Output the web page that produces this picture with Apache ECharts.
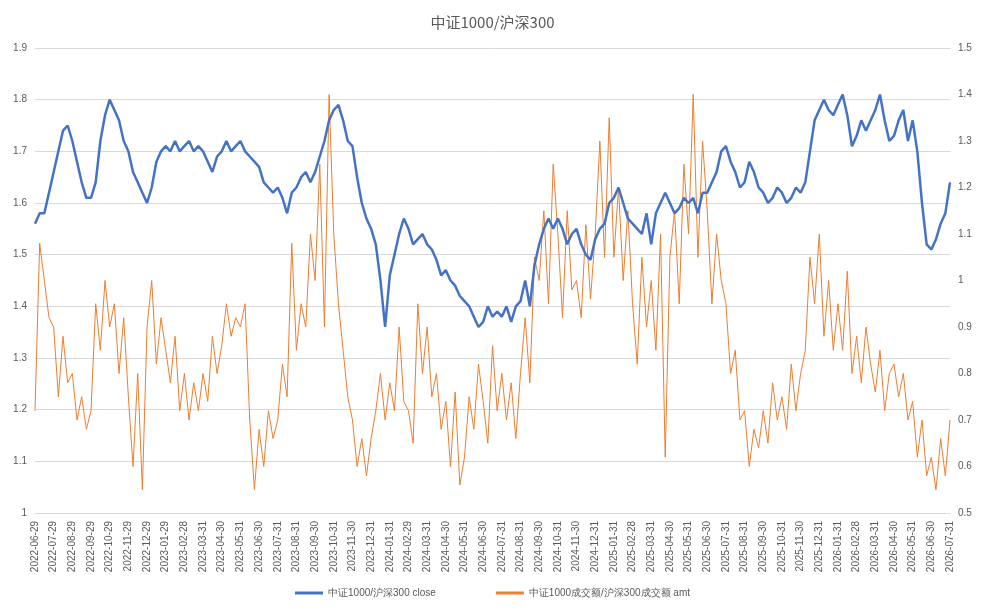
<!DOCTYPE html>
<html><head><meta charset="utf-8">
<script src="https://cdn.jsdelivr.net/npm/echarts@6/dist/echarts.min.js"></script>
<style>html,body{margin:0;padding:0;background:#fff}#c{width:985px;height:611px}</style>
</head><body><div id="c"></div>
<script>
const monthLabels = ['2022-06-29','2022-07-29','2022-08-29','2022-09-29','2022-10-29','2022-11-29','2022-12-29','2023-01-29','2023-02-28','2023-03-31','2023-04-30','2023-05-31','2023-06-30','2023-07-31','2023-08-31','2023-09-30','2023-10-31','2023-11-30','2023-12-31','2024-01-31','2024-02-29','2024-03-31','2024-04-30','2024-05-31','2024-06-30','2024-07-31','2024-08-31','2024-09-30','2024-10-31','2024-11-30','2024-12-31','2025-01-31','2025-02-28','2025-03-31','2025-04-30','2025-05-31','2025-06-30','2025-07-31','2025-08-31','2025-09-30','2025-10-31','2025-11-30','2025-12-31','2026-01-31','2026-02-28','2026-03-31','2026-04-30','2026-05-31','2026-06-30','2026-07-31'];
const closeRatio = [
1.56,1.58,1.58,1.62, 1.66,1.70,1.74,1.75, 1.72,1.68,1.64,1.61, 1.61,1.64,1.72,1.77,
1.80,1.78,1.76,1.72, 1.70,1.66,1.64,1.62, 1.60,1.63,1.68,1.70, 1.71,1.70,1.72,1.70,
1.71,1.72,1.70,1.71, 1.70,1.68,1.66,1.69, 1.70,1.72,1.70,1.71, 1.72,1.70,1.69,1.68,
1.67,1.64,1.63,1.62, 1.63,1.61,1.58,1.62, 1.63,1.65,1.66,1.64, 1.66,1.69,1.72,1.76,
1.78,1.79,1.76,1.72, 1.71,1.65,1.60,1.57, 1.55,1.52,1.45,1.36, 1.46,1.50,1.54,1.57,
1.55,1.52,1.53,1.54, 1.52,1.51,1.49,1.46, 1.47,1.45,1.44,1.42, 1.41,1.40,1.38,1.36,
1.37,1.40,1.38,1.39, 1.38,1.40,1.37,1.40, 1.41,1.45,1.40,1.48, 1.52,1.55,1.57,1.55,
1.57,1.55,1.52,1.54, 1.55,1.52,1.50,1.49, 1.53,1.55,1.56,1.60, 1.61,1.63,1.60,1.57,
1.56,1.55,1.54,1.58, 1.52,1.58,1.60,1.62, 1.60,1.58,1.59,1.61, 1.60,1.61,1.58,1.62,
1.62,1.64,1.66,1.70, 1.71,1.68,1.66,1.63, 1.64,1.68,1.66,1.63, 1.62,1.60,1.61,1.63,
1.62,1.60,1.61,1.63, 1.62,1.64,1.70,1.76, 1.78,1.80,1.78,1.77, 1.79,1.81,1.77,1.71,
1.73,1.76,1.74,1.76, 1.78,1.81,1.76,1.72, 1.73,1.76,1.78,1.72, 1.76,1.70,1.60,1.52,
1.51,1.53,1.56,1.58, 1.64];
const amtRatio = [
0.72,1.08,1.0,0.92, 0.90,0.75,0.88,0.78, 0.80,0.70,0.75,0.68, 0.72,0.95,0.85,1.0,
0.90,0.95,0.80,0.92, 0.75,0.60,0.80,0.55, 0.90,1.0,0.82,0.92, 0.85,0.78,0.88,0.72,
0.80,0.70,0.78,0.72, 0.80,0.74,0.88,0.80, 0.86,0.95,0.88,0.92, 0.90,0.95,0.70,0.55,
0.68,0.60,0.72,0.66, 0.70,0.82,0.75,1.08, 0.85,0.95,0.90,1.10, 1.00,1.25,0.90,1.40,
1.10,0.95,0.85,0.75, 0.70,0.60,0.66,0.58, 0.66,0.72,0.80,0.70, 0.78,0.72,0.90,0.74,
0.72,0.65,0.95,0.80, 0.90,0.75,0.80,0.68, 0.74,0.60,0.76,0.56, 0.62,0.75,0.68,0.82,
0.74,0.65,0.86,0.72, 0.80,0.70,0.78,0.66, 0.80,0.92,0.78,1.05, 1.00,1.15,0.95,1.25,
1.10,0.92,1.15,0.98, 1.00,0.92,1.12,0.96, 1.10,1.30,1.05,1.35, 1.05,1.20,1.00,1.15,
0.95,0.82,1.05,0.90, 1.00,0.85,1.10,0.62, 1.05,1.15,0.95,1.25, 1.10,1.40,1.05,1.30,
1.15,0.95,1.10,1.00, 0.95,0.80,0.85,0.70, 0.72,0.60,0.68,0.64, 0.72,0.65,0.78,0.70,
0.75,0.68,0.82,0.72, 0.80,0.85,1.05,0.95, 1.10,0.88,1.00,0.85, 0.95,0.85,1.02,0.80,
0.88,0.78,0.90,0.82, 0.76,0.85,0.72,0.80, 0.82,0.75,0.80,0.70, 0.74,0.62,0.70,0.58,
0.62,0.55,0.66,0.58, 0.70];
const categories = [];
monthLabels.forEach((m, i) => {
  categories.push(m);
  if (i < monthLabels.length - 1) for (let k = 1; k <= 3; k++) categories.push(m + '#' + k);
});
const chart = echarts.init(document.getElementById('c'));
const grid = {color:'#d9d9d9'};
chart.setOption({
  animation:false,
  title:{text:'中证1000/沪深300',left:'center',top:10,textStyle:{fontSize:15,fontWeight:'normal',color:'#595959',fontFamily:'Noto Sans CJK SC'}},
  grid:{left:35,right:35,top:48,bottom:98},
  legend:{bottom:8,itemGap:60,textStyle:{color:'#595959',fontSize:10},
    data:[{name:'中证1000/沪深300 close',icon:'rect',itemStyle:{color:'#4472C4'}},{name:'中证1000成交额/沪深300成交额 amt',icon:'rect',itemStyle:{color:'#ED7D31'}}],
    itemWidth:28,itemHeight:3},
  xAxis:{type:'category',data:categories,boundaryGap:false,
    axisLine:{lineStyle:{color:'#d9d9d9'}},axisTick:{show:false},
    axisLabel:{interval:0,rotate:90,fontSize:10,color:'#595959',formatter:v=>v.indexOf('#')>=0?'':v}},
  yAxis:[
    {type:'value',min:1,max:1.9,interval:0.1,axisLabel:{fontSize:10,color:'#595959',formatter:v=>+v.toFixed(1)},splitLine:{lineStyle:grid},axisLine:{show:false}},
    {type:'value',min:0.5,max:1.5,interval:0.1,axisLabel:{fontSize:10,color:'#595959',formatter:v=>+v.toFixed(1)},splitLine:{show:false},axisLine:{show:false}}
  ],
  series:[
    {name:'中证1000/沪深300 close',type:'line',data:closeRatio,showSymbol:false,lineStyle:{color:'#4472C4',width:2.5},itemStyle:{color:'#4472C4'},z:3},
    {name:'中证1000成交额/沪深300成交额 amt',type:'line',yAxisIndex:1,data:amtRatio,showSymbol:false,lineStyle:{color:'#ED7D31',width:1},itemStyle:{color:'#ED7D31'},z:2}
  ]
});
</script></body></html>
